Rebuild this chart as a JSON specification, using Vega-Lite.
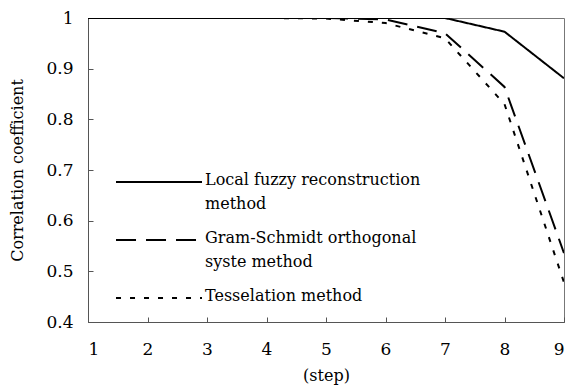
{
  "$schema": "https://vega.github.io/schema/vega-lite/v6.json",
  "width": 476,
  "height": 304,
  "autosize": {"type": "none"},
  "padding": {"left": 88, "top": 18, "right": 5, "bottom": 68},
  "background": "white",
  "config": {
    "font": "DejaVu Serif",
    "view": {"stroke": "#777", "strokeWidth": 1},
    "axis": {"grid": false, "domainColor": "#555", "tickColor": "#555", "labelColor": "black", "titleColor": "black", "labelFont": "DejaVu Serif", "titleFont": "DejaVu Serif", "labelFontSize": 17, "titleFontSize": 16, "titleFontWeight": "normal"}
  },
  "data": {"values": [
    {"step": 1, "r": 1.0, "m": "Local fuzzy reconstruction|method"},
    {"step": 2, "r": 1.0, "m": "Local fuzzy reconstruction|method"},
    {"step": 3, "r": 1.0, "m": "Local fuzzy reconstruction|method"},
    {"step": 4, "r": 1.0, "m": "Local fuzzy reconstruction|method"},
    {"step": 5, "r": 1.0, "m": "Local fuzzy reconstruction|method"},
    {"step": 6, "r": 1.0, "m": "Local fuzzy reconstruction|method"},
    {"step": 7, "r": 1.0, "m": "Local fuzzy reconstruction|method"},
    {"step": 8, "r": 0.973, "m": "Local fuzzy reconstruction|method"},
    {"step": 9, "r": 0.881, "m": "Local fuzzy reconstruction|method"},
    {"step": 1, "r": 1.0, "m": "Gram-Schmidt orthogonal|syste method"},
    {"step": 2, "r": 1.0, "m": "Gram-Schmidt orthogonal|syste method"},
    {"step": 3, "r": 1.0, "m": "Gram-Schmidt orthogonal|syste method"},
    {"step": 4, "r": 1.0, "m": "Gram-Schmidt orthogonal|syste method"},
    {"step": 5, "r": 1.0, "m": "Gram-Schmidt orthogonal|syste method"},
    {"step": 6, "r": 0.997, "m": "Gram-Schmidt orthogonal|syste method"},
    {"step": 7, "r": 0.97, "m": "Gram-Schmidt orthogonal|syste method"},
    {"step": 8, "r": 0.864, "m": "Gram-Schmidt orthogonal|syste method"},
    {"step": 9, "r": 0.536, "m": "Gram-Schmidt orthogonal|syste method"},
    {"step": 1, "r": 1.0, "m": "Tesselation method"},
    {"step": 2, "r": 1.0, "m": "Tesselation method"},
    {"step": 3, "r": 1.0, "m": "Tesselation method"},
    {"step": 4, "r": 1.0, "m": "Tesselation method"},
    {"step": 5, "r": 0.999, "m": "Tesselation method"},
    {"step": 6, "r": 0.99, "m": "Tesselation method"},
    {"step": 7, "r": 0.96, "m": "Tesselation method"},
    {"step": 8, "r": 0.83, "m": "Tesselation method"},
    {"step": 9, "r": 0.478, "m": "Tesselation method"}
  ]},
  "mark": {"type": "line", "color": "black", "strokeWidth": 2, "clip": true},
  "encoding": {
    "x": {"field": "step", "type": "quantitative", "scale": {"domain": [1, 9], "nice": false},
      "axis": {"values": [1,2,3,4,5,6,7,8,9], "tickSize": -5, "labelPadding": 24, "title": "(step)", "titlePadding": 10}},
    "y": {"field": "r", "type": "quantitative", "scale": {"domain": [0.4, 1], "nice": false, "zero": false},
      "axis": {"values": [0.4,0.5,0.6,0.7,0.8,0.9,1], "format": ".1~f", "tickSize": -5, "labelPadding": 20, "title": "Correlation coefficient", "titlePadding": 20}},
    "strokeDash": {"field": "m", "type": "nominal",
      "scale": {"domain": ["Local fuzzy reconstruction|method", "Gram-Schmidt orthogonal|syste method", "Tesselation method"], "range": [[1,0],[20,10],[5,9]]},
      "legend": {"orient": "none", "legendX": 59, "legendY": 152, "title": null, "padding": 0,
        "symbolType": "M-4,0H4", "symbolSize": 462, "symbolStrokeWidth": 2, "symbolStrokeColor": "black", "symbolFillColor": "transparent",
        "labelExpr": "split(datum.label, '|')", "labelFont": "DejaVu Serif", "labelFontSize": 16, "labelColor": "black", "labelLimit": 400, "labelBaseline": "top", "labelOffset": 34, "rowPadding": 16,
        "encode": {"labels": {"update": {"dy": {"value": -10}, "lineHeight": {"value": 24}}}}}
    }
  }
}
